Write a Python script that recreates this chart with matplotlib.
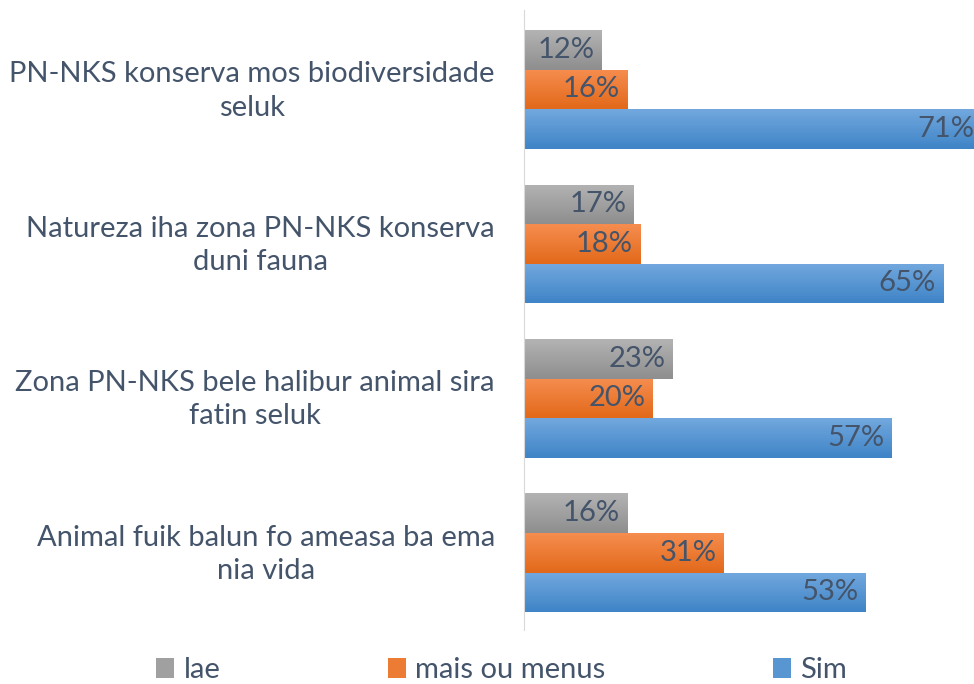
import numpy as np
import matplotlib.pyplot as plt
from matplotlib.colors import LinearSegmentedColormap
from matplotlib.patches import Patch

plt.rcParams['font.family'] = ['Lato', 'DejaVu Sans']

categories = [
    'PN-NKS konserva mos biodiversidade\nseluk',
    'Natureza iha zona PN-NKS konserva\nduni fauna',
    'Zona PN-NKS bele halibur animal sira\nfatin seluk',
    'Animal fuik balun fo ameasa ba ema\nnia vida',
]
series_names = ['lae', 'mais ou menus', 'Sim']
lae = [12, 17, 23, 16]
mais_ou_menus = [16, 18, 20, 31]
sim = [71, 65, 57, 53]

# (top colour, bottom colour) for the Excel style gradient
grad = [('#b3b3b3', '#8e8e8e'), ('#f68d4f', '#e2691a'), ('#72a8de', '#3f84c7')]
txt_col = '#44546a'

fig = plt.figure(figsize=(9.74, 6.84), dpi=100)
ax = fig.add_axes([0.538, 0.079, 0.462, 0.906])

y = np.arange(len(categories))
h = 0.256
values = [lae, mais_ou_menus, sim]
cmaps = []

for i, (vals, (c_top, c_bot)) in enumerate(zip(values, grad)):
    offs = (i - 1) * h
    bars = ax.barh(y + offs, vals, height=h, color=c_bot, linewidth=0)
    cmap = LinearSegmentedColormap.from_list('g%d' % i, [c_top, c_bot])
    cmaps.append(cmap)
    for yi, b, v in zip(y, bars, vals):
        x0, y0 = b.get_x(), b.get_y()
        # y axis is inverted, so origin='lower' puts the light colour on top
        im = ax.imshow(np.linspace(0, 1, 64).reshape(-1, 1), cmap=cmap,
                       aspect='auto', interpolation='bilinear',
                       extent=[x0, x0 + b.get_width(), y0, y0 + b.get_height()],
                       origin='lower', zorder=2)
        im.set_clip_path(b)
        ax.annotate(f'{v}%', (v, yi + offs), xytext=(-5, 0),
                    textcoords='offset points', ha='right', va='center',
                    fontsize=21, color=txt_col, zorder=3,
                    annotation_clip=False)

ax.set_xlim(0, 69.8)
ax.set_ylim(3.5, -0.513)
ax.set_xticks([])
ax.set_yticks([])
for s in ['top', 'right', 'bottom']:
    ax.spines[s].set_visible(False)
ax.spines['left'].set_color('#d9d9d9')

for yi, cat in zip(y, categories):
    ax.text(-0.065, yi + 0.01, cat, transform=ax.get_yaxis_transform(),
            ha='right', va='center', multialignment='center',
            fontsize=21, color=txt_col, linespacing=1.34)

handles = [Patch(facecolor=cm(0.5), edgecolor='none') for cm in cmaps]
fig.legend(handles, series_names, ncol=3, loc='center',
           bbox_to_anchor=(0.515, 0.02), frameon=False, fontsize=21,
           labelcolor=txt_col, handlelength=0.62, handleheight=0.65,
           handletextpad=0.31, columnspacing=5.75, borderpad=0)

fig.savefig('out.png', dpi=100)
